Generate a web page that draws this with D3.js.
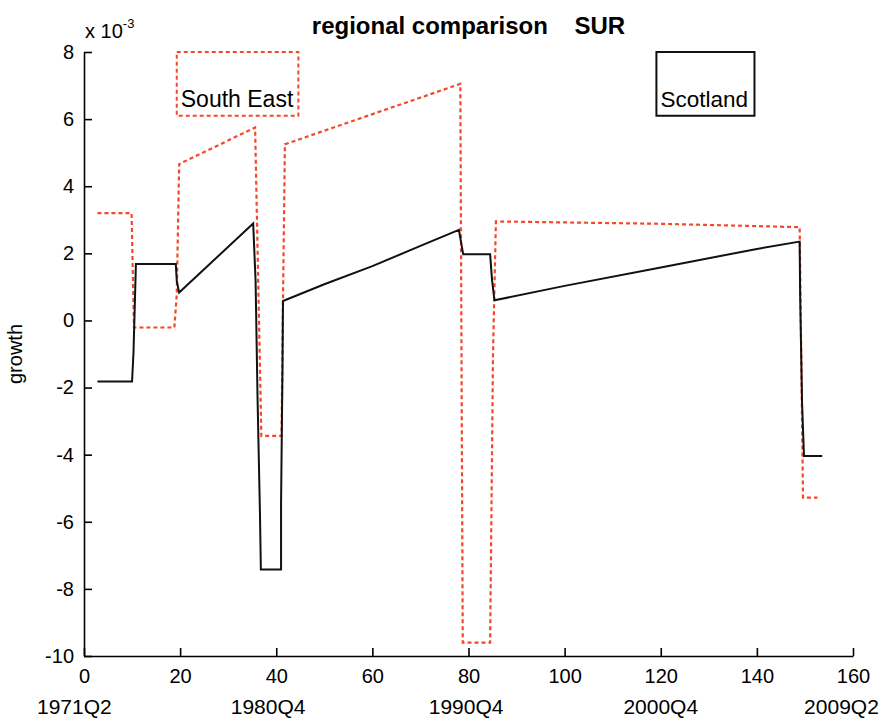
<!DOCTYPE html>
<html>
<head>
<meta charset="utf-8">
<script src="https://cdn.jsdelivr.net/npm/d3@7"></script>
<style>
  body { margin: 0; background: #fff; }
  svg { display: block; font-family: "Liberation Sans", Arial, sans-serif; }
</style>
</head>
<body>
<div id="chart"></div>
<script>
// Scotland (solid black), quarter index vs growth (x 1e-3)
const scotlandX = [2.8, 10.0, 10.3, 10.8, 19.1, 19.3, 19.8, 35.2, 35.7, 36.1, 36.6, 36.8, 41.0, 41.0, 41.3, 41.4,
  50, 60, 70, 78.0, 78.9, 84.5, 84.9, 85.4, 100, 120, 140, 148.9, 149.0, 149.4, 149.8, 153.6];
const scotlandY = [-1.82, -1.82, -0.95, 1.68, 1.68, 1.18, 0.83, 2.89, 1.18, -2.25, -5.68, -7.42, -7.42, -5.47, -1.41, 0.58,
  1.08, 1.62, 2.22, 2.70, 1.97, 1.97, 1.20, 0.60, 1.03, 1.58, 2.13, 2.35, 0.78, -2.45, -4.04, -4.04];

// South East (red dotted)
const southEastX = [2.8, 9.9, 10.4, 18.8, 19.3, 19.8, 35.6, 36.9, 41.1, 41.4, 41.8, 78.3, 78.8, 84.5, 85.1, 85.7, 120, 148.9, 149.6, 152.6];
const southEastY = [3.2, 3.2, -0.21, -0.21, 0.78, 4.66, 5.75, -3.44, -3.44, 0.58, 5.25, 7.05, -9.6, -9.6, -1.0, 2.95, 2.88, 2.78, -5.28, -5.28];

const xTicks = [0, 20, 40, 60, 80, 100, 120, 140, 160];
const yTicks = [-10, -8, -6, -4, -2, 0, 2, 4, 6, 8];
const quarterLabels = ['1971Q2', '1980Q4', '1990Q4', '2000Q4', '2009Q2'];
const quarterPos = [-2, 38.3, 79.5, 120, 157.6];

const width = 887, height = 718;
const margin = { left: 84, right: 34, top: 52, bottom: 62 };

const svg = d3.select('#chart').append('svg')
  .attr('width', width)
  .attr('height', height);

svg.append('rect').attr('width', width).attr('height', height).attr('fill', '#fff');

const x = d3.scaleLinear().domain([0, 160]).range([margin.left, width - margin.right]);
const y = d3.scaleLinear().domain([-10, 8]).range([height - margin.bottom, margin.top]);

// axes (ticks inside, MATLAB style, box off)
const yAxis = d3.axisLeft(y).tickValues(yTicks).tickFormat(d => String(d))
  .tickSizeInner(-8).tickSizeOuter(0).tickPadding(10);
const xAxis = d3.axisBottom(x).tickValues(xTicks).tickFormat(d => String(d))
  .tickSizeInner(-8).tickSizeOuter(0).tickPadding(13);

const gy = svg.append('g').attr('transform', `translate(${margin.left},0)`).call(yAxis);
const gx = svg.append('g').attr('transform', `translate(0,${height - margin.bottom})`).call(xAxis);

[gx, gy].forEach(g => {
  g.select('.domain').attr('stroke', '#000').attr('stroke-width', 1.6);
  g.selectAll('.tick line').attr('stroke', '#000').attr('stroke-width', 1.6);
  g.selectAll('.tick text').attr('fill', '#000').style('font-size', '20px');
});

// quarter labels under the x axis
svg.append('g').selectAll('text')
  .data(quarterLabels)
  .enter()
  .append('text')
  .attr('x', (d, i) => x(quarterPos[i]))
  .attr('y', 714)
  .attr('text-anchor', 'middle')
  .style('font-size', '21px')
  .text(d => d);

// exponent label
const expo = svg.append('text').attr('x', 85).attr('y', 38).style('font-size', '20px');
expo.append('tspan').text('x 10');
expo.append('tspan').attr('dy', -10).style('font-size', '13px').text('-3');

// title
svg.append('text')
  .attr('x', (x(0) + x(160)) / 2)
  .attr('y', 34)
  .attr('text-anchor', 'middle')
  .style('font-size', '24px')
  .style('font-weight', 'bold')
  .style('white-space', 'pre')
  .attr('xml:space', 'preserve')
  .text('regional comparison    SUR');

// y label
svg.append('text')
  .attr('transform', `translate(22,${(y(8) + y(-10)) / 2}) rotate(-90)`)
  .attr('text-anchor', 'middle')
  .style('font-size', '20px')
  .text('growth');

const line = d3.line().x(d => x(d[0])).y(d => y(d[1]));

svg.append('path')
  .datum(southEastX.map((v, i) => [v, southEastY[i]]))
  .attr('fill', 'none')
  .attr('stroke', '#f4472b')
  .attr('stroke-width', 2.2)
  .attr('stroke-dasharray', '4,3')
  .attr('d', line);

svg.append('path')
  .datum(scotlandX.map((v, i) => [v, scotlandY[i]]))
  .attr('fill', 'none')
  .attr('stroke', '#111')
  .attr('stroke-width', 2)
  .attr('d', line);

// legend boxes (text with edge, as in the original)
const legends = [
  { label: 'South East', x0: 19.3, x1: 44.6, color: '#f4472b', dash: '4,3', size: 23 },
  { label: 'Scotland', x0: 119.1, x1: 139.5, color: '#111', dash: null, size: 22.5 }
];

legends.forEach(l => {
  svg.append('rect')
    .attr('x', x(l.x0)).attr('y', y(8))
    .attr('width', x(l.x1) - x(l.x0)).attr('height', y(6.1) - y(8))
    .attr('fill', 'none')
    .attr('stroke', l.color)
    .attr('stroke-width', 2)
    .attr('stroke-dasharray', l.dash);
  svg.append('text')
    .attr('x', x(l.x0) + 4).attr('y', y(6.1) - 9)
    .style('font-size', l.size + 'px')
    .text(l.label);
});
</script>
</body>
</html>
